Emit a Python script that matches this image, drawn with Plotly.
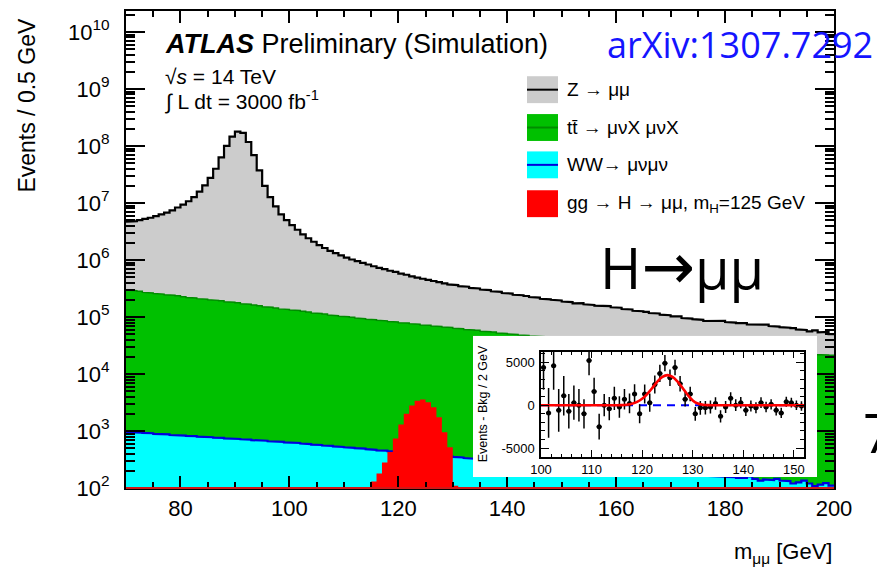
import plotly.graph_objects as go

# ---------------- main histogram data (1 GeV bins, events / 0.5 GeV) ----------------
bin_lo = 70.0
bin_width = 1.0

z_mumu = [
    4.39e6, 4.50e6, 4.73e6, 4.98e6, 5.24e6, 5.63e6, 6.06e6, 6.52e6, 7.17e6, 8.09e6,
    9.10e6, 1.05e7, 1.24e7, 1.56e7, 2.02e7, 2.73e7, 3.96e7, 6.29e7, 1.00e8, 1.45e8,
    1.78e8, 1.70e8, 1.17e8, 6.90e7, 3.70e7, 1.98e7, 1.25e7, 8.57e6, 6.17e6, 4.88e6,
    3.94e6, 3.26e6, 2.69e6, 2.28e6, 1.97e6, 1.70e6, 1.51e6, 1.34e6, 1.21e6, 1.10e6,
    1.00e6, 9.20e5, 8.60e5, 7.98e5, 7.41e5, 6.87e5, 6.37e5, 6.07e5, 5.63e5, 5.36e5,
    4.96e5, 4.72e5, 4.37e5, 4.16e5, 3.96e5, 3.76e5, 3.58e5, 3.39e5, 3.23e5, 3.07e5,
    3.00e5, 2.85e5, 2.79e5, 2.65e5, 2.58e5, 2.46e5, 2.40e5, 2.28e5, 2.23e5, 2.12e5,
    2.07e5, 1.96e5, 1.92e5, 1.86e5, 1.78e5, 1.73e5, 1.64e5, 1.60e5, 1.57e5, 1.53e5,
    1.45e5, 1.41e5, 1.33e5, 1.35e5, 1.28e5, 1.24e5, 1.21e5, 1.18e5, 1.19e5, 1.12e5,
    1.10e5, 1.03e5, 1.01e5, 9.50e4, 9.29e4, 9.06e4, 8.50e4, 8.34e4, 7.90e4, 7.65e4,
    7.20e4, 7.30e4, 6.60e4, 6.45e4, 6.27e4, 6.09e4, 5.70e4, 5.96e4, 5.82e4, 5.85e4,
    5.50e4, 5.34e4, 5.19e4, 5.22e4, 4.85e4, 4.93e4, 4.79e4, 4.90e4, 4.52e4, 4.39e4,
    4.27e4, 4.14e4, 4.05e4, 3.77e4, 3.65e4, 3.35e4, 3.60e4, 3.21e4, 3.30e4, 2.90e4,
]

ttbar = [
    2.95e5, 2.88e5, 2.82e5, 2.69e5, 2.63e5, 2.57e5, 2.51e5, 2.45e5, 2.40e5, 2.34e5,
    2.26e5, 2.19e5, 2.14e5, 2.09e5, 2.04e5, 2.00e5, 1.95e5, 1.91e5, 1.84e5, 1.80e5,
    1.76e5, 1.70e5, 1.66e5, 1.62e5, 1.57e5, 1.51e5, 1.48e5, 1.43e5, 1.38e5, 1.35e5,
    1.32e5, 1.29e5, 1.26e5, 1.22e5, 1.17e5, 1.15e5, 1.12e5, 1.08e5, 1.05e5, 1.02e5,
    1.00e5, 9.80e4, 9.50e4, 9.30e4, 9.10e4, 8.90e4, 8.70e4, 8.50e4, 8.30e4, 8.10e4,
    7.90e4, 7.80e4, 7.60e4, 7.40e4, 7.20e4, 7.10e4, 6.90e4, 6.80e4, 6.60e4, 6.50e4,
    6.30e4, 6.20e4, 6.00e4, 5.90e4, 5.80e4, 5.60e4, 5.50e4, 5.40e4, 5.20e4, 5.10e4,
    5.00e4, 4.90e4, 4.80e4, 4.70e4, 4.60e4, 4.57e4, 4.47e4, 4.37e4, 4.27e4, 4.17e4,
    4.10e4, 4.07e4, 3.98e4, 3.89e4, 3.85e4, 3.80e4, 3.72e4, 3.67e4, 3.63e4, 3.55e4,
    3.50e4, 3.47e4, 3.39e4, 3.35e4, 3.31e4, 3.24e4, 3.20e4, 3.16e4, 3.09e4, 3.05e4,
    3.02e4, 2.98e4, 2.95e4, 2.88e4, 2.85e4, 2.82e4, 2.79e4, 2.75e4, 2.69e4, 2.66e4,
    2.63e4, 2.60e4, 2.57e4, 2.54e4, 2.51e4, 2.48e4, 2.45e4, 2.43e4, 2.40e4, 2.37e4,
    2.34e4, 2.32e4, 2.29e4, 2.26e4, 2.24e4, 2.21e4, 2.19e4, 2.16e4, 2.14e4, 2.11e4,
]

ww = [
    955, 944, 933, 923, 912, 891, 881, 871, 851, 841,
    832, 822, 813, 794, 785, 776, 767, 759, 741, 733,
    724, 716, 708, 692, 684, 676, 661, 653, 646, 631,
    624, 617, 603, 589, 575, 569, 556, 550, 537, 525,
    519, 507, 501, 490, 479, 468, 457, 452, 442, 432,
    427, 417, 407, 398, 389, 385, 376, 367, 363, 355,
    351, 343, 335, 327, 320, 313, 305, 299, 292, 285,
    279, 272, 269, 263, 257, 251, 248, 243, 240, 234,
    232, 229, 224, 221, 219, 214, 211, 207, 204, 200,
    197, 195, 193, 191, 188, 186, 184, 182, 180, 178,
    176, 174, 172, 170, 168, 166, 164, 162, 160, 158,
    157, 155, 151, 150, 160, 145, 135, 141, 138, 145,
    135, 132, 120, 126, 135, 120, 108, 115, 122, 110,
]

higgs_lo = 115.0
higgs = [130, 180, 280, 430, 740, 1300, 2000, 2800, 3400, 3550,
         3200, 2600, 1750, 950, 520, 110]

# ---------------- inset: events minus background ----------------
inset_mass = [
    100.5, 101.5, 102.5, 103.5, 104.5, 105.5, 106.5, 107.5, 108.5, 109.5,
    110.5, 111.5, 112.5, 113.5, 114.5, 115.5, 116.5, 117.5, 118.5, 119.5,
    120.5, 121.5, 122.5, 123.5, 124.5, 125.5, 126.5, 127.5, 128.5, 129.5,
    130.5, 131.5, 132.5, 133.5, 134.5, 135.5, 136.5, 137.5, 138.5, 139.5,
    140.5, 141.5, 142.5, 143.5, 144.5, 145.5, 146.5, 147.5, 148.5, 149.5,
    150.5, 151.5,
]
inset_diff = [
    4400, -900, 4600, -600, 1100, -700, 300, 0, -1000, 5200,
    1600, -2500, 0, -400, 800, -200, 700, 200, 1300, -1000,
    1300, 300, 2400, 3700, 4900, 3200, 4400, 2500, 700, 1300,
    -1000, -300, -300, -200, 200, -1300, -200, 800, 0, 300,
    -600, -100, -300, 300, -200, 100, -600, -900, 400, 300,
    0, -100,
]
inset_err = [
    2600, 2900, 2800, 2500, 2300, 2000, 2000, 1900, 1700, 1700,
    1600, 1500, 1300, 1350, 1350, 1250, 1200, 1150, 1150, 1100,
    1100, 1050, 1050, 1000, 950, 950, 900, 900, 850, 850,
    800, 800, 780, 760, 740, 720, 700, 700, 680, 660,
    650, 640, 630, 620, 610, 600, 600, 590, 580, 570,
    560, 550,
]
fit_mass = [100, 114, 115, 116, 117, 118, 119, 120, 121, 122, 123, 124, 125,
            126, 127, 128, 129, 130, 131, 132, 133, 134, 152]
fit_curve = [0, 0, 0, 15, 60, 160, 380, 750, 1300, 2000, 2750, 3300, 3500,
             3300, 2750, 2000, 1200, 560, 200, 60, 15, 0, 0]

# ---------------- helpers ----------------
def edges_for(lo, width, n):
    return [lo + i * width for i in range(n + 1)]


def step_outline(edges, heights):
    xs, ys = [], []
    for i, h in enumerate(heights):
        xs += [edges[i], edges[i + 1]]
        ys += [h, h]
    return xs, ys


def step_polygon(edges, heights, base=1.0):
    xs, ys = step_outline(edges, heights)
    return xs + [edges[-1], edges[0]], ys + [base, base]


n = len(z_mumu)
edges = edges_for(bin_lo, bin_width, n)
ww_top = list(ww)
tt_top = [a + b for a, b in zip(ww, ttbar)]
total = [a + b for a, b in zip(tt_top, z_mumu)]
h_edges = edges_for(higgs_lo, bin_width, len(higgs))

# plot-area geometry in pixels (for placing text and legend)
PL, PR, PT, PB = 126, 834, 9, 488
PW, PH = PR - PL, PB - PT


def fx(px):
    return (px - PL) / PW


def fy(py):
    return (PB - py) / PH


GRAY = "#cccccc"
GREEN = "#00c000"
CYAN = "#00ffff"
RED = "#ff0000"

fig = go.Figure()

layers = [
    (total, GRAY, "black", 2.2),
    (tt_top, GREEN, "#008c00", 1.5),
    (ww_top, CYAN, "#0000dd", 2.2),
]
for heights, fillc, linec, lw in layers:
    px_, py_ = step_polygon(edges, heights)
    fig.add_trace(go.Scatter(x=px_, y=py_, mode="lines", fill="toself",
                             fillcolor=fillc, line=dict(width=0),
                             hoverinfo="skip", xaxis="x", yaxis="y"))
    ox, oy = step_outline(edges, heights)
    fig.add_trace(go.Scatter(x=ox, y=oy, mode="lines",
                             line=dict(color=linec, width=lw),
                             hoverinfo="skip", xaxis="x", yaxis="y"))

hx, hy = step_polygon(h_edges, higgs)
fig.add_trace(go.Scatter(x=hx, y=hy, mode="lines", fill="toself",
                         fillcolor=RED, line=dict(width=0),
                         hoverinfo="skip", xaxis="x", yaxis="y"))

# white panel behind the inset
fig.add_trace(go.Scatter(x=[0, 1, 1, 0, 0], y=[0, 0, 1, 1, 0], mode="lines",
                         fill="toself", fillcolor="white", line=dict(width=0),
                         hoverinfo="skip", xaxis="x2", yaxis="y2"))

# inset contents
fig.add_trace(go.Scatter(x=[100, 152], y=[0, 0], mode="lines",
                         line=dict(color="#0000ff", width=2, dash="8px,6px"),
                         hoverinfo="skip", xaxis="x3", yaxis="y3"))
fig.add_trace(go.Scatter(
    x=inset_mass, y=inset_diff, mode="markers",
    marker=dict(color="black", size=5),
    error_y=dict(type="data", array=inset_err, width=0, thickness=1.5, color="black"),
    error_x=dict(type="constant", value=0.5, width=0, thickness=1.5, color="black"),
    hoverinfo="skip", xaxis="x3", yaxis="y3"))
fig.add_trace(go.Scatter(x=fit_mass, y=fit_curve, mode="lines",
                         line=dict(color=RED, width=2.6, shape="spline", smoothing=0.6),
                         hoverinfo="skip", xaxis="x3", yaxis="y3"))

ydecades = list(range(2, 11))
fig.update_layout(
    width=877, height=573,
    margin=dict(l=PL, r=877 - PR, t=PT, b=573 - PB),
    paper_bgcolor="white", plot_bgcolor="rgba(0,0,0,0)",
    showlegend=False,
    font=dict(family="Liberation Sans, Arial, sans-serif", color="black"),
    xaxis=dict(
        domain=[0, 1], range=[70, 200], anchor="y",
        tickvals=[80, 100, 120, 140, 160, 180, 200],
        ticks="inside", ticklen=12, tickwidth=1.5, tickcolor="black",
        showline=True, linecolor="black", linewidth=2, mirror="ticks",
        showgrid=False, zeroline=False, tickfont=dict(size=22),
        minor=dict(dtick=5, tick0=70, ticks="inside", ticklen=6,
                   tickwidth=1.5, tickcolor="black", showgrid=False),
    ),
    yaxis=dict(
        type="log", domain=[0, 1], range=[2, 10.367], anchor="x",
        tickvals=[10 ** k for k in ydecades],
        ticktext=[f"10<sup>{k}</sup>" for k in ydecades],
        ticks="inside", ticklen=19, tickwidth=1.5, tickcolor="black",
        showline=True, linecolor="black", linewidth=2, mirror="ticks",
        showgrid=False, zeroline=False, tickfont=dict(size=22),
        ticklabelstandoff=10,
        minor=dict(tickvals=[m * 10 ** k for k in ydecades for m in range(2, 10)],
                   ticks="inside", ticklen=9, tickwidth=1.5, tickcolor="black",
                   showgrid=False),
    ),
    xaxis2=dict(domain=[fx(473), fx(817)], range=[0, 1], anchor="y2", visible=False),
    yaxis2=dict(domain=[fy(477), fy(335)], range=[0, 1], anchor="x2", visible=False),
    xaxis3=dict(
        domain=[fx(541), fx(804)], range=[100, 152], anchor="y3",
        tickvals=[100, 110, 120, 130, 140, 150],
        ticks="inside", ticklen=7, tickwidth=1, tickcolor="black",
        showline=True, linecolor="black", linewidth=1.5, mirror="ticks",
        showgrid=False, zeroline=False, tickfont=dict(size=13),
        ticklabelstandoff=0,
        minor=dict(dtick=2, tick0=100, ticks="inside", ticklen=3.5,
                   tickwidth=1, tickcolor="black", showgrid=False),
    ),
    yaxis3=dict(
        domain=[fy(457), fy(351)], range=[-6050, 6250], anchor="x3",
        tickvals=[-5000, 0, 5000], ticktext=["-5000", "0", "5000"],
        ticks="inside", ticklen=8, tickwidth=1, tickcolor="black",
        showline=True, linecolor="black", linewidth=1.5, mirror="ticks",
        showgrid=False, zeroline=False, tickfont=dict(size=13),
        ticklabelstandoff=2,
        minor=dict(dtick=1000, tick0=0, ticks="inside", ticklen=4,
                   tickwidth=1, tickcolor="black", showgrid=False),
    ),
)

# ---------------- legend (drawn by hand) ----------------
legend_rows = [
    (88, GRAY, "black", "Z → μμ"),
    (126, GREEN, "#008c00", "tt\u0304 → μνX μνX"),
    (163.5, CYAN, "#0000dd", "WW→ μνμν"),
    (202.5, RED, None, "gg → H → μμ, m<sub>H</sub>=125 GeV"),
]
shapes = []
annotations = []
for yc, fillc, linec, label in legend_rows:
    shapes.append(dict(type="rect", xref="paper", yref="paper",
                       x0=fx(527), x1=fx(558), y0=fy(yc + 13.5), y1=fy(yc - 13.5),
                       fillcolor=fillc, line=dict(width=0), layer="above"))
    if linec:
        shapes.append(dict(type="line", xref="paper", yref="paper",
                           x0=fx(527), x1=fx(558), y0=fy(yc), y1=fy(yc),
                           line=dict(color=linec, width=2), layer="above"))
    annotations.append(dict(text=label, xref="paper", yref="paper",
                            x=fx(565), y=fy(yc), xanchor="left", yanchor="middle",
                            showarrow=False, font=dict(size=19)))

# red baseline of the signal histogram along the bottom edge
shapes.append(dict(type="line", xref="paper", yref="paper", x0=0, x1=1, y0=0, y1=0,
                   line=dict(color="#d01818", width=2), layer="above"))

arrow_big = "<span style=\"font-family:'DejaVu Sans';font-size:64px\">→</span>"
text_items = [
    dict(text="<b><i>ATLAS</i></b> Preliminary (Simulation)", x=fx(163), y=fy(42),
         xanchor="left", font=dict(size=27)),
    dict(text="√<i>s</i> = 14 TeV", x=fx(163), y=fy(75), xanchor="left",
         font=dict(size=21)),
    dict(text="∫ L dt = 3000 fb<sup>-1</sup>", x=fx(163), y=fy(99), xanchor="left",
         font=dict(size=21)),
    dict(text="arXiv:1307.7292", x=fx(605), y=fy(43), xanchor="left",
         font=dict(size=36, color="#1414ff", family="Open Sans, sans-serif")),
    dict(text="H" + arrow_big + "μμ", x=fx(598), y=fy(266), xanchor="left",
         font=dict(size=56, family="Open Sans, sans-serif")),
    dict(text="7", x=fx(861), y=fy(432), xanchor="left",
         font=dict(size=54, family="Open Sans, sans-serif")),
    dict(text="Events / 0.5 GeV", x=fx(27), y=fy(104), xanchor="center",
         textangle=-90, font=dict(size=23)),
    dict(text="m<sub>μμ</sub> [GeV]", x=fx(834), y=fy(553), xanchor="right",
         font=dict(size=22)),
    dict(text="Events - Bkg / 2 GeV", x=fx(483), y=fy(404), xanchor="center",
         textangle=-90, font=dict(size=12.5)),
]
for t in text_items:
    t.setdefault("yanchor", "middle")
    annotations.append(dict(xref="paper", yref="paper", showarrow=False, **t))

fig.update_layout(shapes=shapes, annotations=annotations)

fig.write_html("out.html")
